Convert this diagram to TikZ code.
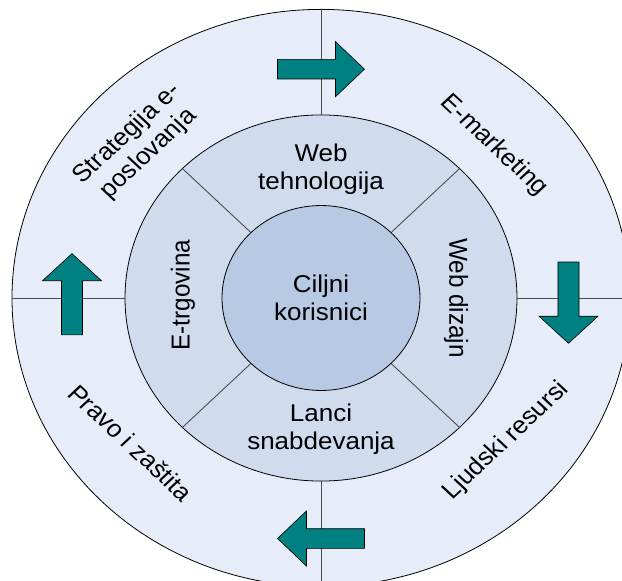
\documentclass[tikz,border=0pt]{standalone}
\usepackage{fontspec}
\setmainfont{Liberation Sans}
\definecolor{outerc}{RGB}{231,237,248}
\definecolor{midc}{RGB}{208,220,238}
\definecolor{innerc}{RGB}{184,201,227}
\begin{document}
\begin{tikzpicture}[x=1pt, y=1pt,
	ring/.style={draw=black, line width=0.8pt},
	sep/.style={draw=black!70, line width=0.9pt},
	lbl/.style={align=center, inner sep=0pt, font=\fontsize{26}{30}\selectfont},
	bigarrow/.pic={\draw[fill=teal, draw=black, line width=0.6pt]
		(-43.5,-10.5) -- (14.5,-10.5) -- (14.5,-29.5) -- (43.5,0)
		-- (14.5,29.5) -- (14.5,10.5) -- (-43.5,10.5) -- cycle;}]
	\useasboundingbox (-321,-283) rectangle (301,298);
	\clip (-321,-283) rectangle (301,298);
	\begin{scope}[yscale=0.934, transform shape]
		% === 外圈 ===
		\draw[ring, fill=outerc] (0,0) circle (309);
		\foreach \a in {0,90,180,270}
			\draw[sep] (\a:196) -- (\a:309);
		
		% 箭头
		\pic at (0,245) {bigarrow};
		\pic[rotate=-90] at (247.5,-5) {bigarrow};
		\pic[rotate=180] at (0,-257.5) {bigarrow};
		\pic[rotate=90] at (-249,4) {bigarrow};
		
		% === 中圈 ===
		\draw[ring, fill=midc] (0,0) circle (196);
		\foreach \a in {45,135,225,315}
			\draw[sep] (\a:99) -- (\a:196);
		
		% === 内圈 ===
		\draw[ring, fill=innerc] (0,0) circle (99);
		
		% 文字
		\node[lbl] (ciljni) at (0,0) {Ciljni\\korisnici};
		\node[lbl] (webteh) at (0,138) {Web\\tehnologija};
		\node[lbl] (lanci) at (0,-141) {Lanci\\snabdevanja};
		\node[lbl, rotate=90] (etrg) at (-138,3) {E-trgovina};
		\node[lbl, rotate=-90] (webdiz) at (135,0) {Web dizajn};
		
		\node[lbl, rotate=45] (strat) at (-183,165) {Strategija e-\\poslovanja};
		\node[lbl, rotate=-45] (emark) at (173,163) {E-marketing};
		\node[lbl, rotate=45] (ljud) at (185,-153) {Ljudski resursi};
		\node[lbl, rotate=-45] (pravo) at (-190,-155) {Pravo i zaštita};
	\end{scope}
\end{tikzpicture}
\end{document}
